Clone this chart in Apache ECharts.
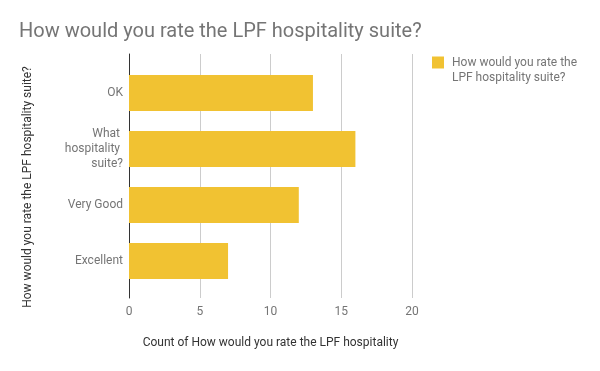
<!DOCTYPE html>
<html>
<head>
<meta charset="utf-8">
<script src="https://cdn.jsdelivr.net/npm/echarts@6/dist/echarts.min.js"></script>
<style>html,body{margin:0;padding:0;background:#fff}#c{width:600px;height:371px}</style>
</head>
<body>
<div id="c"></div>
<script>
const titleText = 'How would you rate the LPF hospitality suite?';
const categories = ['OK', 'What hospitality suite?', 'Very Good', 'Excellent'];
const counts = [13, 16, 12, 7];
const seriesName = 'How would you rate the LPF hospitality suite?';
const xAxisName = 'Count of How would you rate the LPF hospitality';
const yAxisName = 'How would you rate the LPF hospitality suite?';
const xTicks = { min: 0, max: 20, interval: 5 };

const FONT = 'Roboto';
const chart = echarts.init(document.getElementById('c'), null, { renderer: 'canvas' });
chart.setOption({
  animation: false,
  backgroundColor: '#ffffff',
  title: {
    text: titleText, left: 14, top: 17,
    textStyle: { fontFamily: FONT, fontSize: 20, fontWeight: 'normal', color: '#757575' }
  },
  legend: {
    left: 427, top: 35, orient: 'vertical',
    itemWidth: 12, itemHeight: 12, itemGap: 8,
    icon: 'rect',
    formatter: () => '\n How would you rate the\n LPF hospitality suite?',
    textStyle: { fontFamily: FONT, fontSize: 12, color: '#757575', lineHeight: 15 }
  },
  grid: [
    { left: 129, right: 188, top: 65, bottom: 82 },
    { left: 129, right: 188, top: 54, bottom: 73 }
  ],
  xAxis: [
    { type: 'value', gridIndex: 0, min: xTicks.min, max: xTicks.max, interval: xTicks.interval, show: false },
    {
      type: 'value', gridIndex: 1, min: xTicks.min, max: xTicks.max, interval: xTicks.interval,
      axisLine: { show: false }, axisTick: { show: false },
      splitLine: { show: true, lineStyle: { color: '#cccccc', width: 1 } },
      axisLabel: { fontFamily: FONT, fontSize: 12, color: '#757575', margin: 8 },
      name: xAxisName, nameLocation: 'middle', nameGap: 39,
      nameTextStyle: { fontFamily: FONT, fontSize: 12, color: '#333333' }
    }
  ],
  yAxis: [
    {
      type: 'category', gridIndex: 0, data: categories, inverse: true,
      axisLine: { show: false }, axisTick: { show: false }, splitLine: { show: false },
      axisLabel: {
        fontFamily: FONT, fontSize: 12, color: '#757575', margin: 6,
        width: 72, overflow: 'break', lineHeight: 15, align: 'right'
      }
    },
    {
      type: 'value', gridIndex: 1, min: 0, max: 1,
      axisLine: { show: true, lineStyle: { color: '#333333', width: 1 } },
      axisTick: { show: false }, axisLabel: { show: false }, splitLine: { show: false },
      name: yAxisName, nameLocation: 'middle', nameGap: 95, nameRotate: 90,
      nameTextStyle: { fontFamily: FONT, fontSize: 12, color: '#333333', padding: [0, 22, 0, 0] }
    }
  ],
  series: [
    {
      name: seriesName, type: 'bar', xAxisIndex: 0, yAxisIndex: 0,
      data: counts, barWidth: 36,
      itemStyle: { color: '#f1c232' }
    }
  ]
});
</script>
</body>
</html>
